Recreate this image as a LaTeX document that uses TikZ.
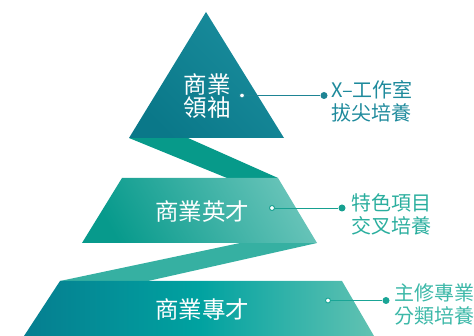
\documentclass[tikz,border=0pt]{standalone}
\usepackage{fontspec}
\newfontfamily\cjk{Noto Sans CJK TC}
\definecolor{topA}{HTML}{0A7889}
\definecolor{topB}{HTML}{1A8D9D}
\definecolor{ribA}{HTML}{079A8A}
\definecolor{midA}{HTML}{079A8C}
\definecolor{midB}{HTML}{66C3B8}
\definecolor{ribB}{HTML}{36B0A2}
\definecolor{botA}{HTML}{067E90}
\definecolor{botM}{HTML}{00A2A0}
\definecolor{botB}{HTML}{62C2B2}
\definecolor{labA}{HTML}{1E8A9C}
\definecolor{labB}{HTML}{2AAE9E}
\definecolor{labC}{HTML}{3CB8A8}
\definecolor{lineA}{HTML}{1E8494}
\definecolor{lineB}{HTML}{16A090}
\definecolor{lineC}{HTML}{1AA596}
\tikzset{
  tiertext/.style={text=white, align=center, inner sep=0pt, font=\cjk\fontsize{23.5}{23}\selectfont},
  sidetext/.style={anchor=west, align=left, inner sep=0pt, font=\cjk\fontsize{20}{23}\selectfont},
  hollowdot/.style={circle, fill=white, draw=#1, line width=0.9pt, inner sep=0pt, minimum size=5pt},
  soliddot/.style={circle, fill=#1, inner sep=0pt, minimum size=7pt},
  leader/.style={draw=#1, line width=0.9pt}
}
\begin{document}
\begin{tikzpicture}[x=1pt,y=-1pt]
\useasboundingbox (0,0) rectangle (474,336);
\clip (0,0) rectangle (474,336);
% ribbons
\fill[ribA] (129,138) -- (188,138) -- (278,178) -- (227,178) -- cycle;
\fill[ribB] (240,243) -- (317,243) -- (148,281) -- (60,281) -- cycle;
% top triangle
\shade[left color=topA, right color=topB, shading angle=135] (206,12) -- (284,138) -- (129,138) -- cycle;
% middle trapezoid
\shade[left color=midA, middle color=midA, right color=midB, shading angle=120] (122,178) -- (278,178) -- (317,243) -- (82,243) -- cycle;
% bottom trapezoid
\shade[left color=botA, right color=botB, middle color=botM] (60,281) -- (342,281) -- (374,336) -- (24,336) -- cycle;
% texts
\node[tiertext] (t1) at (207,96) {商業\\領袖};
\node[tiertext] (t2) at (202,212) {商業英才};
\node[tiertext] (t3) at (202,310) {商業專才};
% leaders
\node[hollowdot=lineA] (a1) at (242,95.5) {};
\node[soliddot=lineA] (b1) at (324,95.5) {};
\draw[leader=lineA] (a1) -- (b1);
\node[hollowdot=lineB] (a2) at (272,208) {};
\node[soliddot=lineB] (b2) at (342,208) {};
\draw[leader=lineB] (a2) -- (b2);
\node[hollowdot=lineC] (a3) at (328,300.5) {};
\node[soliddot=lineC] (b3) at (386,300.5) {};
\draw[leader=lineC] (a3) -- (b3);
\node[sidetext, text=labA] (l1) at (331,101) {X–工作室\\拔尖培養};
\node[sidetext, text=labB] (l2) at (351,214) {特色項目\\交叉培養};
\node[sidetext, text=labC] (l3) at (394,304) {主修專業\\分類培養};
\end{tikzpicture}
\end{document}
